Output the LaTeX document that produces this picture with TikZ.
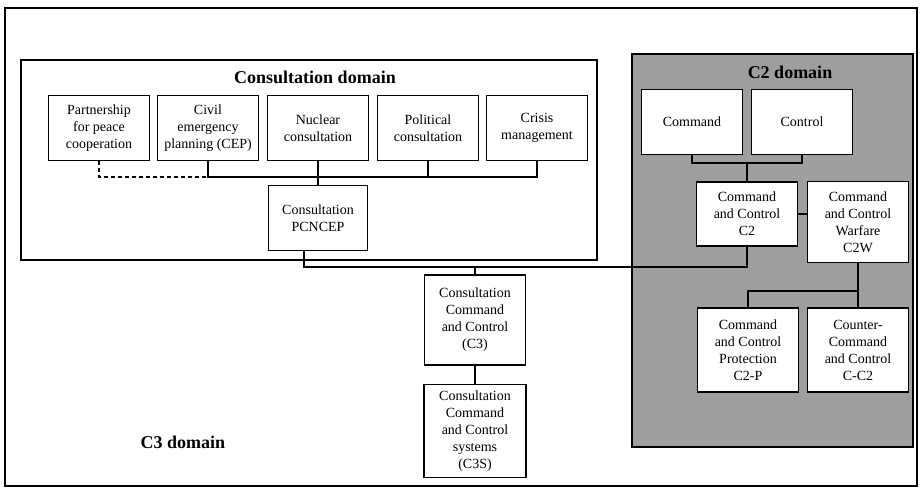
\documentclass[tikz,border=0pt]{standalone}
\usepackage{fontspec}
\setmainfont{Liberation Serif}
\begin{document}
\begin{tikzpicture}
[ x=1pt, y=-1pt, line width=1.1pt
, box/.style={rectangle, draw, fill=white, align=center, inner sep=1pt, font=\fontsize{14}{17}\selectfont}
, topbox/.style={box, minimum width=101pt, minimum height=65pt}
, domainbox/.style={rectangle, draw, line width=1.3pt}
, domaintitle/.style={font=\fontsize{18}{20}\selectfont\bfseries}
]
\useasboundingbox (0,0) rectangle (921,488);
% Domains:
\draw [domainbox] (5,8) rectangle (917,486);
\draw [domainbox] (21,60) rectangle (597,260);
\draw [domainbox, fill=black!38] (632,54) rectangle (913,447);
\node (cons) [domaintitle] at (315,77) {Consultation domain};
\node (c2dom) [domaintitle] at (790,72) {C2 domain};
\node (c3dom) [domaintitle] at (183,442) {C3 domain};
% Consultation row:
\node (pfp) [topbox] at (99,128) {Partnership\\for peace\\cooperation};
\node (cep) [topbox] at (208,128) {Civil\\emergency\\planning (CEP)};
\node (nuc) [topbox] at (318,128) {Nuclear\\consultation};
\node (pol) [topbox] at (428,128) {Political\\consultation};
\node (cri) [topbox] at (537,128) {Crisis\\management};
\node (pcncep) [box, minimum width=99pt, minimum height=65pt] at (318,218) {Consultation\\PCNCEP};
% C3 column:
\node (c3) [box, minimum width=101pt, minimum height=90pt] at (475,320) {Consultation\\Command\\and Control\\(C3)};
\node (c3s) [box, minimum width=102pt, minimum height=93pt] at (475,431) {Consultation\\Command\\and Control\\systems\\(C3S)};
% C2 domain:
\node (command) [topbox] at (692,122) {Command};
\node (control) [topbox] at (802,122) {Control};
\node (c2) [box, minimum width=101pt, minimum height=64pt] at (747,214) {Command\\and Control\\C2};
\node (c2w) [box, minimum width=101pt, minimum height=81pt] at (858,222) {Command\\and Control\\Warfare\\C2W};
\node (c2p) [box, minimum width=101pt, minimum height=84pt] at (748,350) {Command\\and Control\\Protection\\C2-P};
\node (cc2) [box, minimum width=101pt, minimum height=84pt] at (858,350) {Counter-\\Command\\and Control\\C-C2};
% Connectors:
\coordinate (bus) at (0,177);
\coordinate (link) at (0,267);
\coordinate (cbus) at (0,163);
\coordinate (lbus) at (0,291);
\draw [dash pattern=on 4pt off 3pt] (pfp.south) |- (bus -| cep.south);
\draw (cep.south) |- (bus -| cri.south) -- (cri.south);
\draw (pol.south) -- (pol.south |- bus);
\draw (nuc.south) -- (pcncep.north);
\draw ([xshift=-14pt]pcncep.south) |- (link -| c2.south) -- (c2.south);
\draw (c3.north) -- (c3.north |- link);
\draw (c3.south) -- (c3s.north);
\draw (command.south) |- (cbus -| control.south) -- (control.south);
\draw (c2.north) -- (c2.north |- cbus);
\draw (c2.east) -- (c2w.west |- c2.east);
\draw (c2w.south) -- (cc2.north);
\draw (c2p.north) |- (lbus -| c2w.south);
\end{tikzpicture}
\end{document}
